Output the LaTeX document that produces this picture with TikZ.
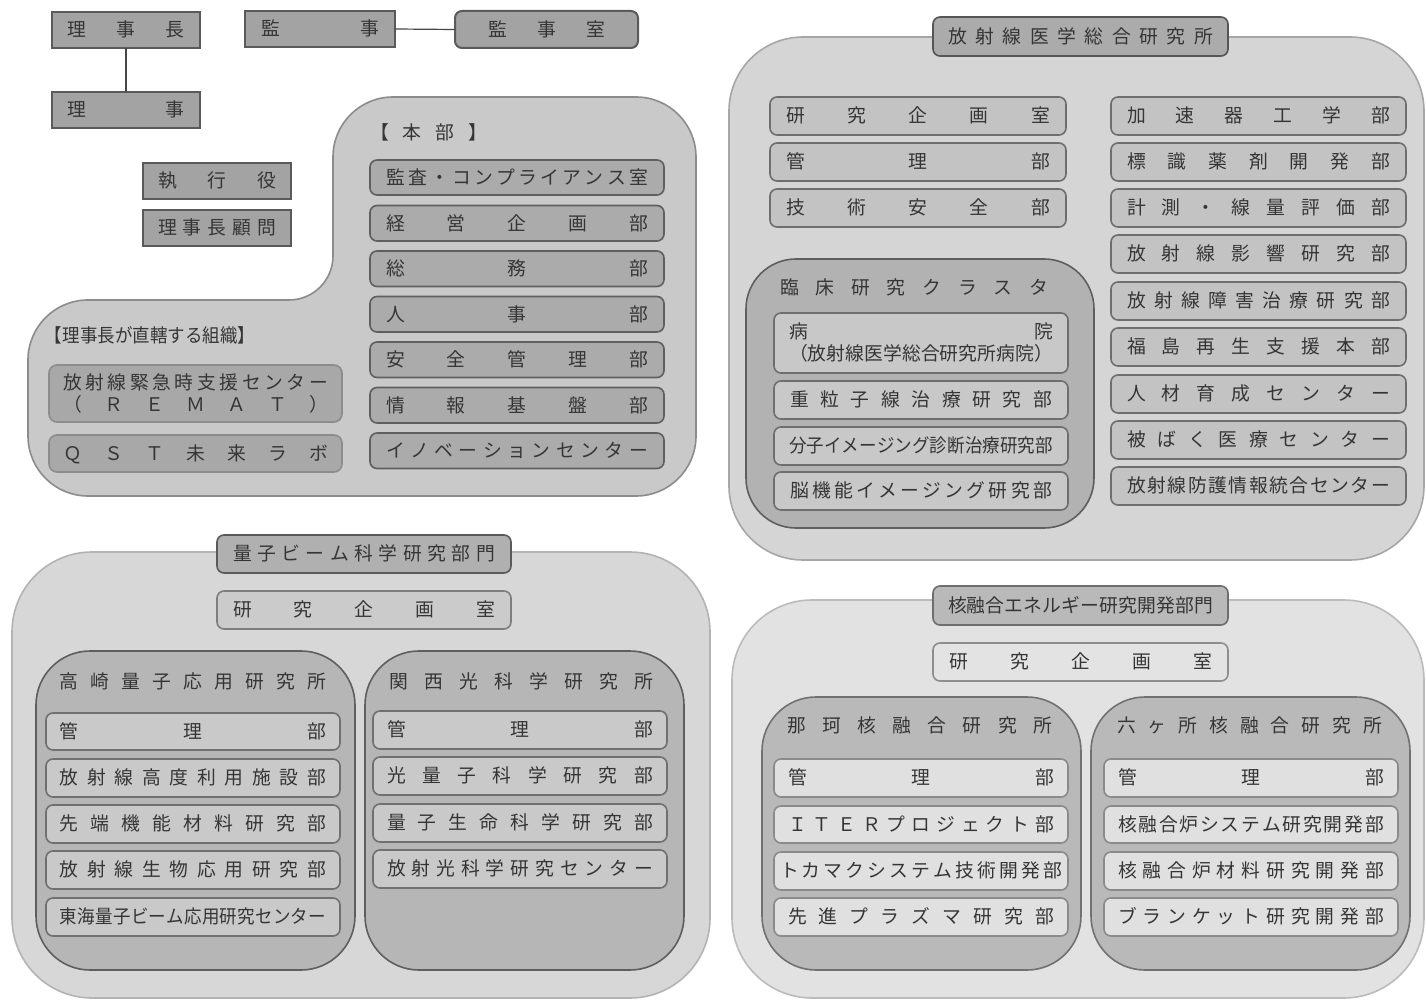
\documentclass[tikz,border=0pt]{standalone}
\usepackage{fontspec}
\setmainfont{Noto Sans CJK JP}
\newfontfamily\narrowfont{Noto Sans CJK JP}[FakeStretch=0.93]
\definecolor{txt}{HTML}{353535}
\newcommand\spr[1]{\sprA#1\sprE}
\def\sprA#1#2\sprE{#1\if\relax\detokenize{#2}\relax\else\hfill\sprA#2\sprE\fi}
\newcommand\bx[8]{%
 \pgfmathsetmacro\bxw{(#5-#3)*0.5}\pgfmathsetmacro\bxh{(#6-#4)*0.5}\pgfmathsetmacro\bxt{(#5-#3-2*#7)*0.5}%
 \node[base,#2,one,minimum width=\bxw pt,minimum height=\bxh pt] (#1) at ({(#3+#5)/2},{(#4+#6)/2}) {\hbox to \bxt pt{\spr{#8}}};}
\newcommand\bxx[9]{%
 \pgfmathsetmacro\bxw{(#5-#3)*0.5}\pgfmathsetmacro\bxh{(#6-#4)*0.5}\pgfmathsetmacro\bxt{(#5-#3-2*#7)*0.5}%
 \node[base,#2,minimum width=\bxw pt,minimum height=\bxh pt] (#1) at ({(#3+#5)/2},{(#4+#6)/2}) {\vbox{\baselineskip=11pt\lineskiplimit=-5pt\hbox to \bxt pt{\spr{#8}}\hbox to \bxt pt{\spr{#9}}}};}
\newcommand\lbl[6][]{%
 \pgfmathsetmacro\bxt{(#4-#3)*0.5}%
 \node[base,#1,one,anchor=west] (#2) at (#3,#5) {\hbox to \bxt pt{\spr{#6}}};}
\newcommand\cont[6]{%
 \pgfmathsetmacro\bxw{(#5-#3)*0.5}\pgfmathsetmacro\bxh{(#6-#4)*0.5}%
 \node[base,#2,minimum width=\bxw pt,minimum height=\bxh pt] (#1) at ({(#3+#5)/2},{(#4+#6)/2}) {};}
\begin{document}
\begin{tikzpicture}[x=0.5pt,y=-0.5pt,
 base/.style={font=\fontsize{9.4}{11}\selectfont, text=txt, inner sep=0pt, outer sep=0pt, line width=0.8pt, rectangle},
 tight/.style={font=\narrowfont\fontsize{9.4}{11}\selectfont},
 one/.style={text height=8.1pt, text depth=1.3pt},
 topbox/.style={fill={rgb,255:red,163;green,163;blue,163}, draw={rgb,255:red,90;green,90;blue,90}, line width=1pt},
 topboxr/.style={topbox, rounded corners=3.5pt},
 hqin/.style={fill={rgb,255:red,171;green,171;blue,171}, draw={rgb,255:red,95;green,95;blue,95}, rounded corners=3.5pt},
 rembox/.style={fill={rgb,255:red,168;green,168;blue,168}, draw={rgb,255:red,140;green,140;blue,140}, rounded corners=4pt},
 ncont/.style={fill={rgb,255:red,213;green,213;blue,213}, draw={rgb,255:red,166;green,166;blue,166}, rounded corners=37pt},
 ntitle/.style={fill={rgb,255:red,171;green,171;blue,171}, draw={rgb,255:red,85;green,85;blue,85}, rounded corners=3.5pt},
 nbox/.style={fill={rgb,255:red,195;green,195;blue,195}, draw={rgb,255:red,110;green,110;blue,110}, rounded corners=3.5pt},
 ccont/.style={fill={rgb,255:red,178;green,178;blue,178}, draw={rgb,255:red,94;green,94;blue,94}, rounded corners=25pt},
 cbox/.style={fill={rgb,255:red,200;green,200;blue,200}, draw={rgb,255:red,110;green,110;blue,110}, rounded corners=3.5pt},
 qcont/.style={fill={rgb,255:red,215;green,215;blue,215}, draw={rgb,255:red,179;green,179;blue,179}, rounded corners=40pt},
 qtitle/.style={fill={rgb,255:red,176;green,176;blue,176}, draw={rgb,255:red,90;green,90;blue,90}, rounded corners=3.5pt},
 qplan/.style={fill={rgb,255:red,203;green,203;blue,203}, draw={rgb,255:red,126;green,126;blue,126}, rounded corners=3.5pt},
 qsub/.style={fill={rgb,255:red,182;green,182;blue,182}, draw={rgb,255:red,94;green,94;blue,94}, rounded corners=27pt},
 qbox/.style={fill={rgb,255:red,201;green,201;blue,201}, draw={rgb,255:red,112;green,112;blue,112}, rounded corners=3.5pt},
 fcont/.style={fill={rgb,255:red,226;green,226;blue,226}, draw={rgb,255:red,187;green,187;blue,187}, rounded corners=40pt},
 ftitle/.style={fill={rgb,255:red,185;green,185;blue,185}, draw={rgb,255:red,110;green,110;blue,110}, rounded corners=3.5pt},
 fplan/.style={fill={rgb,255:red,227;green,227;blue,227}, draw={rgb,255:red,142;green,142;blue,142}, rounded corners=3.5pt},
 fsub/.style={fill={rgb,255:red,185;green,185;blue,185}, draw={rgb,255:red,113;green,113;blue,113}, rounded corners=27pt},
 fbox/.style={fill={rgb,255:red,224;green,224;blue,224}, draw={rgb,255:red,138;green,138;blue,138}, rounded corners=3.5pt},
 link/.style={draw={rgb,255:red,70;green,70;blue,70}, line width=0.6pt}
]
\fill[white] (0,0) rectangle (1426,1000);
\useasboundingbox (0,0) rectangle (1426,1000);

% ---- top executives
\bx{rjc}{topbox}{52}{12}{200}{48}{16}{理事長}
\bx{rj}{topbox}{52}{92}{200}{128}{16}{理事}
\bx{kj}{topbox}{245}{11}{395}{47}{16}{監事}
\bx{kjs}{topboxr}{455}{11}{638}{48}{33}{監事室}
\bx{sk}{topbox}{143}{163}{291}{199}{15}{執行役}
\bx{kmn}{topbox}{143}{210}{291}{246}{15}{理事長顧問}
\draw[link] (rjc.south) -- (rj.north);
\draw[link] (kj.east) -- (kjs.west);

% ---- headquarters container
\draw[line width=0.8pt, fill={rgb,255:red,201;green,201;blue,201}, draw={rgb,255:red,140;green,140;blue,140}]
 (333,200) [rounded corners=30pt] -- (333,97) -- (696,97) -- (696,496) -- (28,496) -- (28,300) [rounded corners=22pt] -- (333,300) -- cycle;
\lbl{honbu}{370}{487}{133}{【本部】}
\bx{h1}{hqin}{370}{160}{664}{195}{16}{監査・コンプライアンス室}
\bx{h2}{hqin}{370}{205.5}{664}{241}{16}{経営企画部}
\bx{h3}{hqin}{370}{251}{664}{286.5}{16}{総務部}
\bx{h4}{hqin}{370}{296.5}{664}{332}{16}{人事部}
\bx{h5}{hqin}{370}{342}{664}{377.5}{16}{安全管理部}
\bx{h6}{hqin}{370}{387.5}{664}{423}{16}{情報基盤部}
\bx{h7}{hqin}{370}{433}{664}{468.5}{16}{イノベーションセンター}
\lbl[tight]{chokkatsu}{45}{255}{336}{【理事長が直轄する組織】}
\bxx{remat}{rembox}{49}{365}{342}{422}{14}{放射線緊急時支援センター}{（ＲＥＭＡＴ）}
\bx{qst}{rembox}{49}{435}{342}{472}{14}{ＱＳＴ未来ラボ}

% ---- NIRS
\cont{nirsc}{ncont}{729}{37}{1424}{560}
\bx{nirs}{ntitle}{933}{17}{1228}{56}{15}{放射線医学総合研究所}
\bx{n1}{nbox}{770}{97}{1066}{135}{16}{研究企画室}
\bx{n2}{nbox}{770}{143}{1066}{181}{16}{管理部}
\bx{n3}{nbox}{770}{189}{1066}{227}{16}{技術安全部}
\bx{r1}{nbox}{1111}{97}{1406}{135}{16}{加速器工学部}
\bx{r2}{nbox}{1111}{143}{1406}{181}{16}{標識薬剤開発部}
\bx{r3}{nbox}{1111}{189}{1406}{227}{16}{計測・線量評価部}
\bx{r4}{nbox}{1111}{235}{1406}{273}{16}{放射線影響研究部}
\bx{r5}{nbox}{1111}{282}{1406}{320}{16}{放射線障害治療研究部}
\bx{r6}{nbox}{1111}{328}{1406}{366}{16}{福島再生支援本部}
\bx{r7}{nbox}{1111}{375}{1406}{413}{16}{人材育成センター}
\bx{r8}{nbox}{1111}{421}{1406}{459}{16}{被ばく医療センター}
\bx{r9}{nbox}{1111}{467}{1406}{505}{16}{放射線防護情報統合センター}
\cont{clin}{ccont}{746}{259}{1094}{528}
\lbl{rinsho}{780}{1048}{288}{臨床研究クラスタ}
\bxx{byoin}{cbox}{774}{313}{1068}{373}{15}{病院}{（放射線医学総合研究所病院）}
\bx{c2}{cbox}{774}{381}{1068}{419}{16}{重粒子線治療研究部}
\bx{c3}{cbox,tight}{774}{427}{1068}{465}{15}{分子イメージング診断治療研究部}
\bx{c4}{cbox}{774}{472}{1068}{510}{16}{脳機能イメージング研究部}

% ---- Quantum beam
\cont{qbc}{qcont}{12}{552}{710}{998}
\bx{qb}{qtitle}{217}{535}{511}{573}{16}{量子ビーム科学研究部門}
\bx{qbk}{qplan}{217}{591}{511}{629}{16}{研究企画室}
\cont{takac}{qsub}{36}{651}{355}{970}
\lbl{taka}{60}{326}{682}{高崎量子応用研究所}
\bx{t1}{qbox}{46}{713}{340}{750}{14}{管理部}
\bx{t2}{qbox}{46}{759}{340}{797}{14}{放射線高度利用施設部}
\bx{t3}{qbox}{46}{805}{340}{843}{14}{先端機能材料研究部}
\bx{t4}{qbox}{46}{851}{340}{889}{14}{放射線生物応用研究部}
\bx{t5}{qbox,tight}{46}{898}{340}{936}{14}{東海量子ビーム応用研究センター}
\cont{kanc}{qsub}{365}{651}{684}{970}
\lbl{kansai}{389}{653}{682}{関西光科学研究所}
\bx{k1}{qbox}{373}{711}{667}{749}{14}{管理部}
\bx{k2}{qbox}{373}{757}{667}{795}{14}{光量子科学研究部}
\bx{k3}{qbox}{373}{804}{667}{842}{14}{量子生命科学研究部}
\bx{k4}{qbox}{373}{850}{667}{888}{14}{放射光科学研究センター}

% ---- Fusion
\cont{fusc}{fcont}{732}{600}{1424}{998}
\bx{fus}{ftitle}{933}{586}{1228}{625}{15}{核融合エネルギー研究開発部門}
\bx{fusk}{fplan}{933}{643}{1228}{681}{16}{研究企画室}
\cont{nakac}{fsub}{762}{697}{1081}{970}
\lbl{naka}{787}{1052}{726}{那珂核融合研究所}
\bx{f1}{fbox}{774}{759}{1068}{797}{14}{管理部}
\bx{f2}{fbox}{774}{806}{1068}{843}{14}{ＩＴＥＲプロジェクト部}
\bx{f3}{fbox}{774}{852}{1068}{890}{6}{トカマクシステム技術開発部}
\bx{f4}{fbox}{774}{898}{1068}{936}{14}{先進プラズマ研究部}
\cont{rokc}{fsub}{1091}{697}{1410}{970}
\lbl{rokka}{1117}{1382}{726}{六ヶ所核融合研究所}
\bx{g1}{fbox}{1104}{759}{1398}{797}{14}{管理部}
\bx{g2}{fbox}{1104}{806}{1398}{843}{14}{核融合炉システム研究開発部}
\bx{g3}{fbox}{1104}{852}{1398}{890}{14}{核融合炉材料研究開発部}
\bx{g4}{fbox}{1104}{898}{1398}{936}{14}{ブランケット研究開発部}
\end{tikzpicture}
\end{document}
